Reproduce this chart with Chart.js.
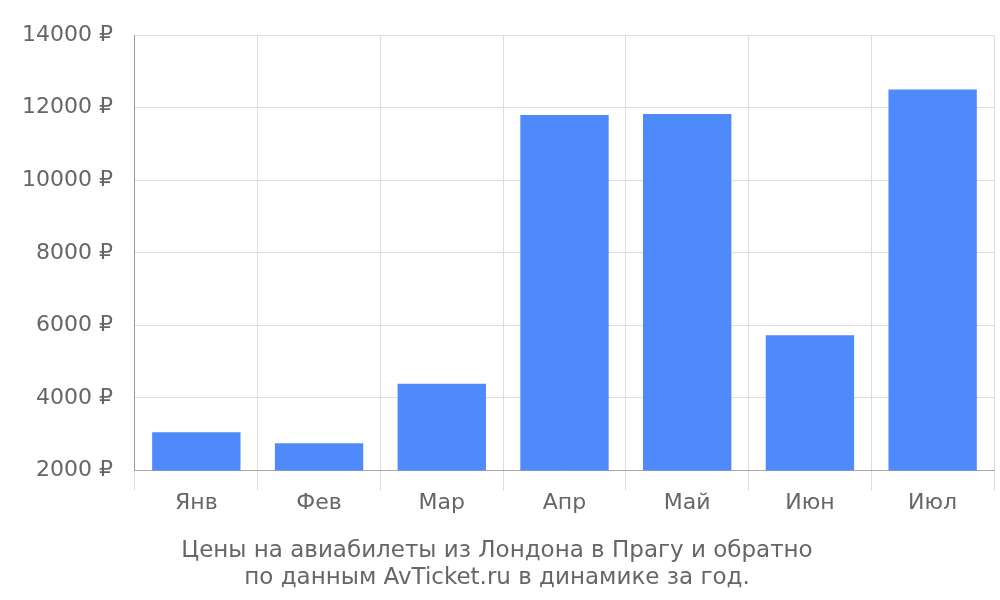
<!DOCTYPE html>
<html>
<head>
<meta charset="utf-8">
<script src="https://cdn.jsdelivr.net/npm/chart.js@4"></script>
<style>
  body { margin: 0; background: #fff; }
  #wrap { width: 1000px; height: 600px; }
</style>
</head>
<body>
<div id="wrap"><canvas id="priceChart"></canvas></div>
<script>
const months = ['Янв', 'Фев', 'Мар', 'Апр', 'Май', 'Июн', 'Июл'];
const prices = [3050, 2750, 4390, 11800, 11830, 5730, 12500];
const titleLines = ['Цены на авиабилеты из Лондона в Прагу и обратно', 'по данным AvTicket.ru в динамике за год.'];

Chart.defaults.font.family = 'DejaVu Sans';
Chart.defaults.color = '#666';

new Chart(document.getElementById('priceChart').getContext('2d'), {
    type: 'bar',
    data: {
        labels: months,
        datasets: [{
            data: prices,
            backgroundColor: '#4e8af9'
        }]
    },
    options: {
        responsive: true,
        maintainAspectRatio: false,
        animation: false,
        layout: { padding: { top: -14, right: 6, bottom: 8 } },
        plugins: {
            legend: { display: false },
            tooltip: { enabled: false },
            title: {
                display: true,
                position: 'bottom',
                text: titleLines,
                color: '#666',
                font: { size: 23, weight: 'normal' },
                lineHeight: 1.2,
                padding: { top: 20, bottom: 0 }
            }
        },
        scales: {
            x: {
                grid: { color: '#ddd', tickLength: 20 },
                border: { color: '#aaa' },
                ticks: { font: { size: 22 }, padding: 0 }
            },
            y: {
                min: 2000,
                max: 14000,
                grid: { color: '#ddd', drawTicks: false },
                border: { color: '#999' },
                ticks: {
                    stepSize: 2000,
                    padding: 22,
                    font: { size: 22 },
                    callback: v => v + ' ₽'
                }
            }
        }
    }
});
</script>
</body>
</html>
